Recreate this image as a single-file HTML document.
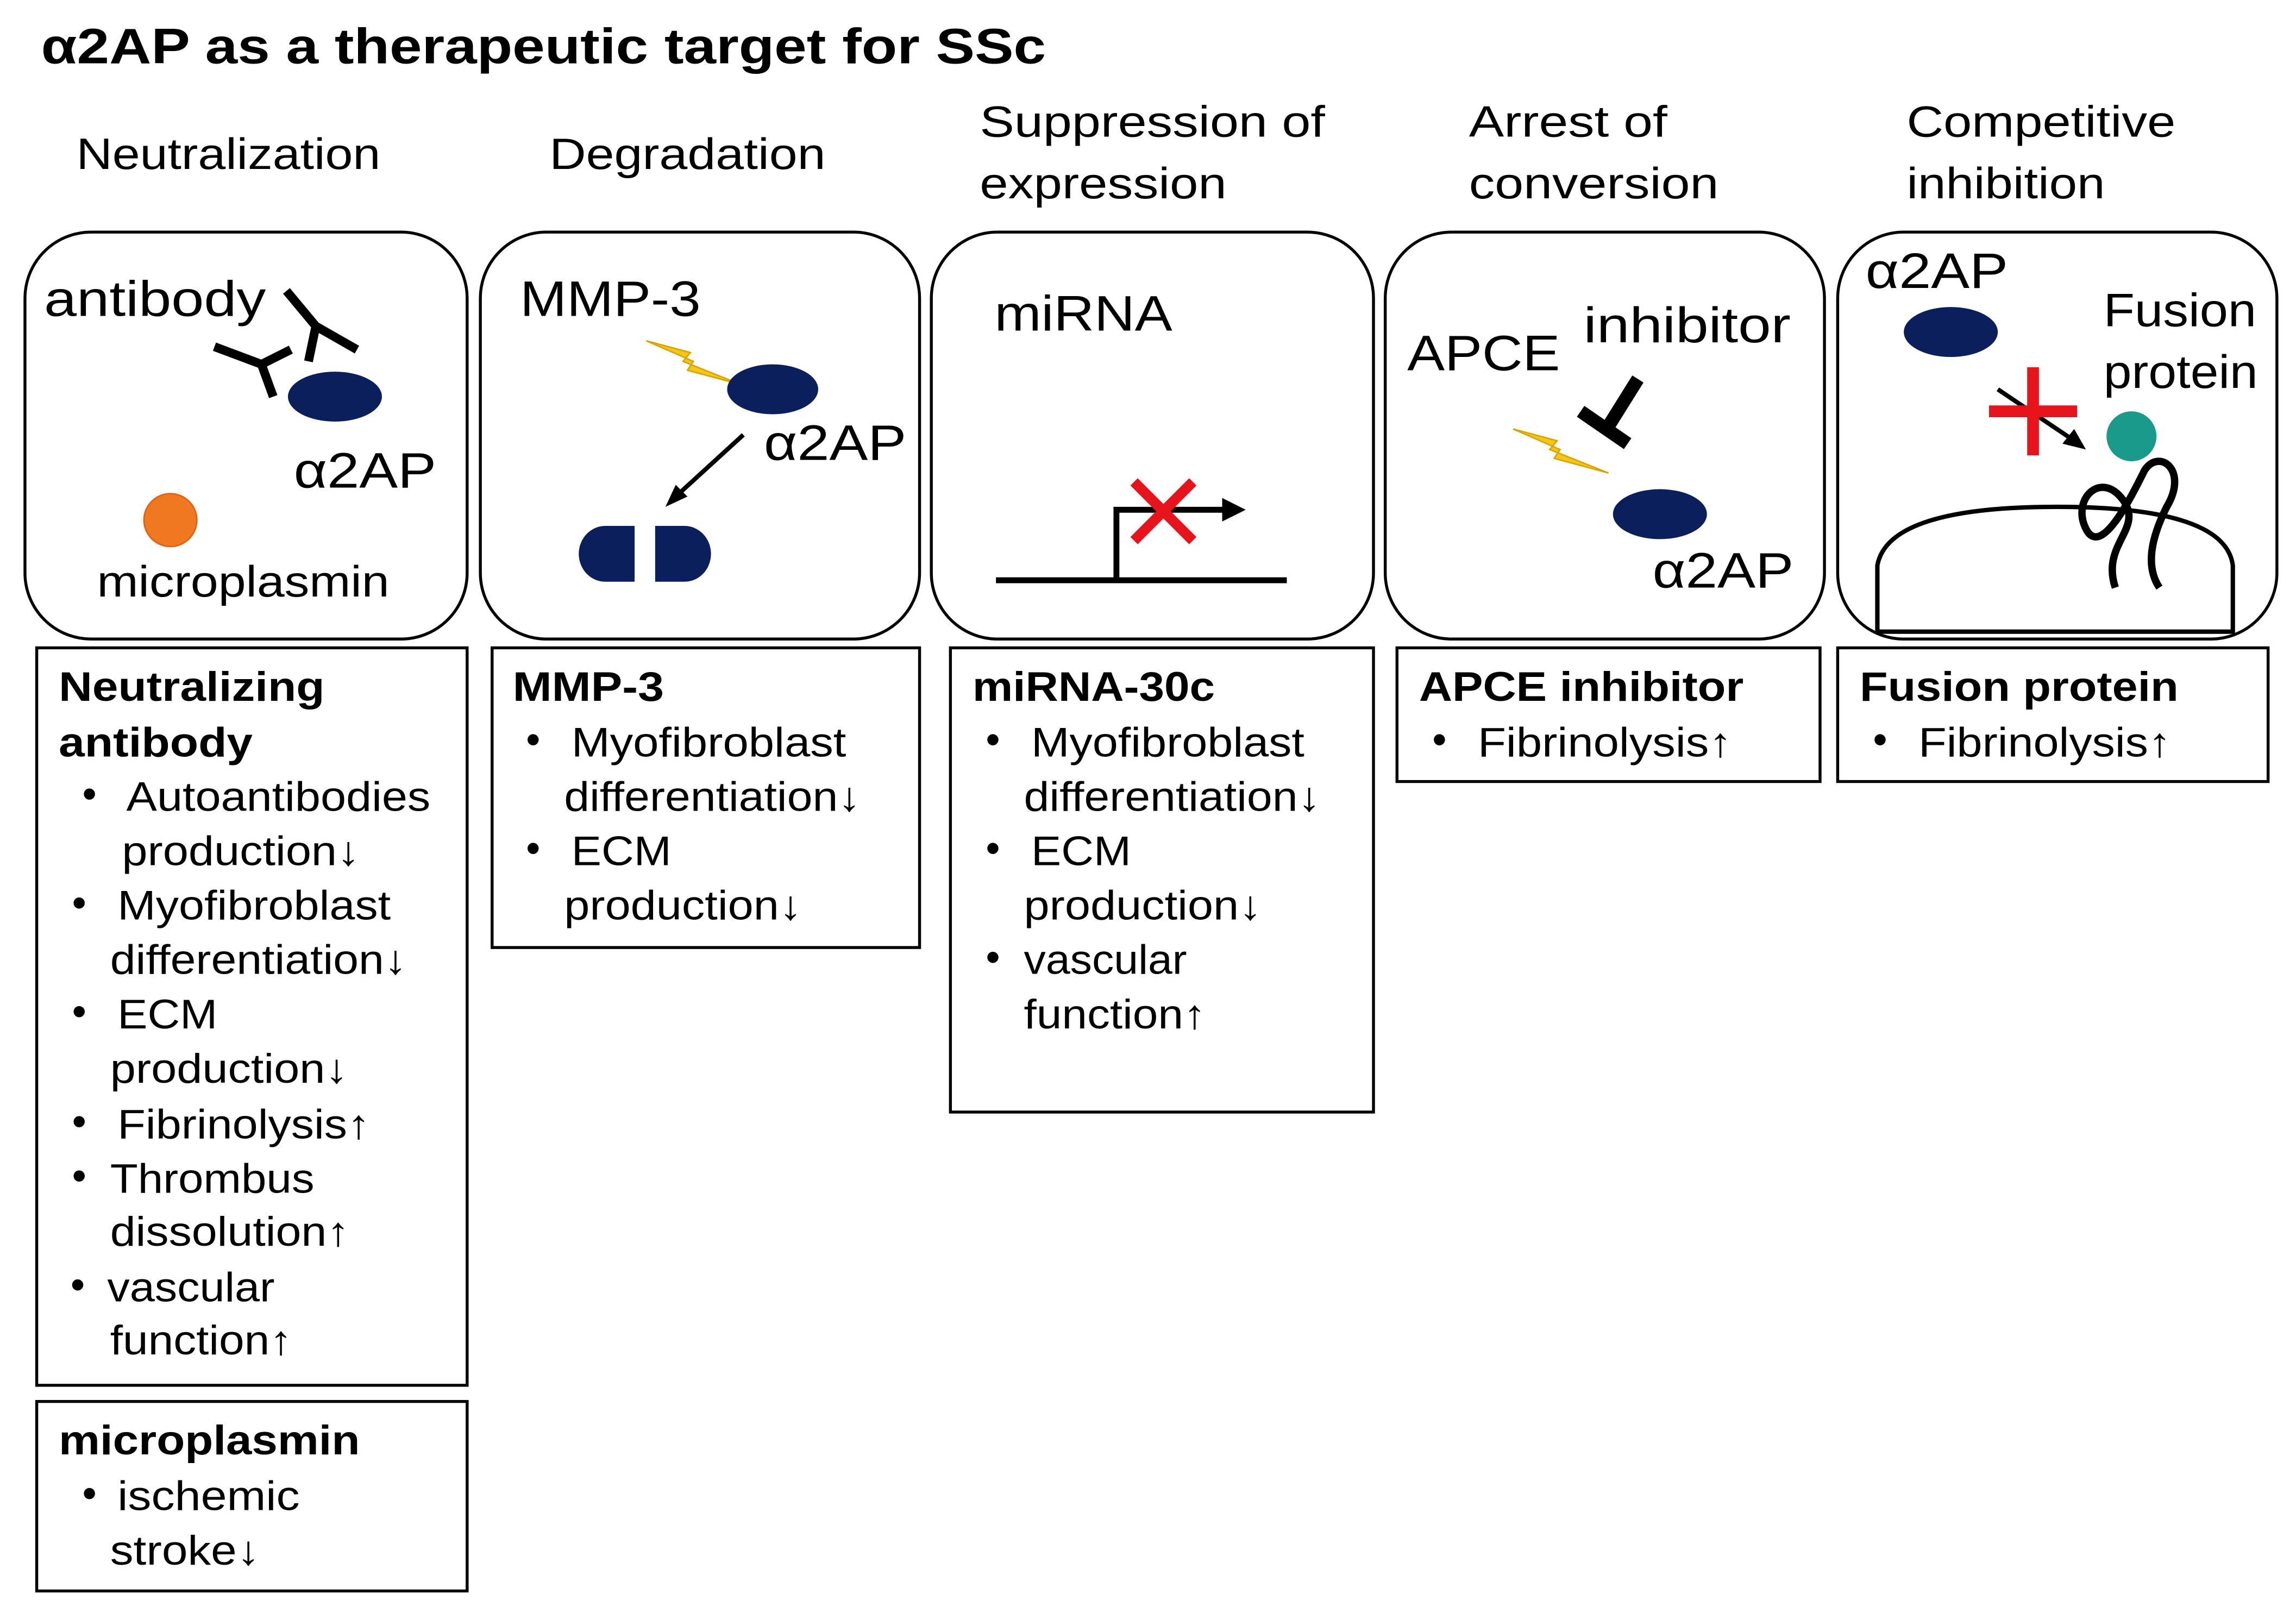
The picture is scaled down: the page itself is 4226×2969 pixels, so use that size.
<!DOCTYPE html>
<html><head><meta charset="utf-8"><style>
html,body{margin:0;padding:0;background:#fff;}
svg{display:block;}
text{font-family:"Liberation Sans",sans-serif;fill:#000;}
.b{font-weight:bold;}
</style></head><body>
<svg width="4226" height="2969" viewBox="0 0 1563 1098" preserveAspectRatio="none" xmlns="http://www.w3.org/2000/svg">
<text x="28" y="43" font-size="34" class="b" textLength="684" lengthAdjust="spacingAndGlyphs">α2AP as a therapeutic target for SSc</text>
<g font-size="30">
<text x="52" y="115" textLength="207" lengthAdjust="spacingAndGlyphs">Neutralization</text>
<text x="374" y="115" textLength="188" lengthAdjust="spacingAndGlyphs">Degradation</text>
<text x="667" y="93" textLength="235" lengthAdjust="spacingAndGlyphs">Suppression of</text>
<text x="667" y="135" textLength="168" lengthAdjust="spacingAndGlyphs">expression</text>
<text x="1000" y="93" textLength="135" lengthAdjust="spacingAndGlyphs">Arrest of</text>
<text x="1000" y="135" textLength="170" lengthAdjust="spacingAndGlyphs">conversion</text>
<text x="1298" y="93" textLength="183" lengthAdjust="spacingAndGlyphs">Competitive</text>
<text x="1298" y="135" textLength="135" lengthAdjust="spacingAndGlyphs">inhibition</text>
</g>
<g fill="none" stroke="#000" stroke-width="2">
<rect x="17" y="158" width="301" height="277" rx="45"/>
<rect x="327" y="158" width="299" height="277" rx="45"/>
<rect x="634" y="158" width="301" height="277" rx="45"/>
<rect x="943" y="158" width="299" height="277" rx="45"/>
<rect x="1251" y="158" width="299" height="277" rx="45"/>
<rect x="25" y="441" width="293" height="502"/>
<rect x="25" y="954" width="293" height="129"/>
<rect x="335" y="441" width="291" height="204"/>
<rect x="647" y="441" width="288" height="316"/>
<rect x="951" y="441" width="288" height="91"/>
<rect x="1251" y="441" width="293" height="91"/>
</g>
<!-- box1 -->
<text x="30" y="215" font-size="34" textLength="151" lengthAdjust="spacingAndGlyphs">antibody</text>
<g stroke="#000" stroke-width="6" fill="none">
<polyline points="195,198 215,222 243,238"/><line x1="215" y1="222" x2="210" y2="246"/>
<polyline points="146,236 178,248 198,238"/><line x1="178" y1="248" x2="186" y2="270"/>
</g>
<ellipse cx="228" cy="270" rx="32" ry="17" fill="#0a1f5c"/>
<text x="200" y="332" font-size="34" textLength="97" lengthAdjust="spacingAndGlyphs">α2AP</text>
<circle cx="116" cy="354" r="18" fill="#f07820" stroke="#e06010"/>
<text x="66" y="406" font-size="30" textLength="199" lengthAdjust="spacingAndGlyphs">microplasmin</text>
<!-- box2 -->
<text x="354" y="215" font-size="34" textLength="123" lengthAdjust="spacingAndGlyphs">MMP-3</text>
<polygon points="440,232 470,240 465,246 505,262 468,252 472,246" fill="#f5c518" stroke="#d9a400"/>
<ellipse cx="526" cy="265" rx="31" ry="17" fill="#0a1f5c"/>
<text x="520" y="313" font-size="34" textLength="97" lengthAdjust="spacingAndGlyphs">α2AP</text>
<line x1="506" y1="296" x2="460" y2="338" stroke="#000" stroke-width="3"/>
<polygon points="453,345 460,330 468,338" fill="#000"/>
<path d="M432,358 L412,358 A18,19 0 0 0 412,396 L432,396 Z" fill="#0a1f5c"/>
<path d="M446,358 L466,358 A18,19 0 0 1 466,396 L446,396 Z" fill="#0a1f5c"/>
<!-- box3 -->
<text x="677" y="225" font-size="34" textLength="121" lengthAdjust="spacingAndGlyphs">miRNA</text>
<g stroke="#000" stroke-width="4" fill="none">
<line x1="678" y1="395" x2="876" y2="395"/>
<polyline points="760,395 760,347 835,347"/>
</g>
<polygon points="848,347 832,339 832,355" fill="#000"/>
<g stroke="#e8141c" stroke-width="7"><line x1="772" y1="328" x2="812" y2="368"/><line x1="812" y1="328" x2="772" y2="368"/></g>
<!-- box4 -->
<text x="958" y="252" font-size="34" textLength="104" lengthAdjust="spacingAndGlyphs">APCE</text>
<text x="1078" y="233" font-size="34" textLength="141" lengthAdjust="spacingAndGlyphs">inhibitor</text>
<line x1="1115" y1="258" x2="1095" y2="290" stroke="#000" stroke-width="9"/>
<line x1="1076" y1="280" x2="1108" y2="302" stroke="#000" stroke-width="9"/>
<polygon points="1030,292 1060,300 1055,306 1095,322 1058,312 1062,306" fill="#f5c518" stroke="#d9a400"/>
<ellipse cx="1130" cy="350" rx="32" ry="17" fill="#0a1f5c"/>
<text x="1125" y="400" font-size="34" textLength="96" lengthAdjust="spacingAndGlyphs">α2AP</text>
<!-- box5 -->
<text x="1270" y="196" font-size="34" textLength="97" lengthAdjust="spacingAndGlyphs">α2AP</text>
<ellipse cx="1328" cy="226" rx="32" ry="17" fill="#0a1f5c"/>
<text x="1432" y="222" font-size="32" textLength="104" lengthAdjust="spacingAndGlyphs">Fusion</text>
<text x="1432" y="264" font-size="32" textLength="105" lengthAdjust="spacingAndGlyphs">protein</text>
<line x1="1360" y1="265" x2="1412" y2="300" stroke="#000" stroke-width="3"/>
<polygon points="1420,306 1404,302 1412,292" fill="#000"/>
<g stroke="#e8141c" stroke-width="8"><line x1="1384" y1="250" x2="1384" y2="310"/><line x1="1354" y1="280" x2="1414" y2="280"/></g>
<circle cx="1451" cy="297" r="17" fill="#1a9a8a"/>
<path d="M1278,430 L1278,385 Q1285,345 1400,345 Q1515,345 1520,385 L1520,430 Z" fill="none" stroke="#000" stroke-width="3"/>
<path d="M1440,400 C1430,370 1460,360 1445,340 C1430,320 1410,340 1420,360 C1430,380 1450,340 1460,320 C1470,305 1490,320 1475,345 C1465,365 1460,385 1470,400" fill="none" stroke="#000" stroke-width="5"/>
<!-- text boxes -->
<g font-size="28">
<text x="40" y="477" class="b" textLength="181" lengthAdjust="spacingAndGlyphs">Neutralizing</text>
<text x="40" y="515" class="b" textLength="132" lengthAdjust="spacingAndGlyphs">antibody</text>
<text x="56" y="550">•</text><text x="86" y="552" textLength="207" lengthAdjust="spacingAndGlyphs">Autoantibodies</text>
<text x="83" y="589" textLength="162" lengthAdjust="spacingAndGlyphs">production↓</text>
<text x="49" y="624">•</text><text x="80" y="626" textLength="186" lengthAdjust="spacingAndGlyphs">Myofibroblast</text>
<text x="75" y="663" textLength="202" lengthAdjust="spacingAndGlyphs">differentiation↓</text>
<text x="49" y="698">•</text><text x="80" y="700" textLength="68" lengthAdjust="spacingAndGlyphs">ECM</text>
<text x="75" y="737" textLength="162" lengthAdjust="spacingAndGlyphs">production↓</text>
<text x="49" y="773">•</text><text x="80" y="775" textLength="172" lengthAdjust="spacingAndGlyphs">Fibrinolysis↑</text>
<text x="49" y="810">•</text><text x="75" y="812" textLength="139" lengthAdjust="spacingAndGlyphs">Thrombus</text>
<text x="75" y="848" textLength="163" lengthAdjust="spacingAndGlyphs">dissolution↑</text>
<text x="48" y="884">•</text><text x="73" y="886" textLength="114" lengthAdjust="spacingAndGlyphs">vascular</text>
<text x="75" y="922" textLength="124" lengthAdjust="spacingAndGlyphs">function↑</text>
<text x="40" y="990" class="b" textLength="205" lengthAdjust="spacingAndGlyphs">microplasmin</text>
<text x="56" y="1026">•</text><text x="80" y="1028" textLength="124" lengthAdjust="spacingAndGlyphs">ischemic</text>
<text x="75" y="1065" textLength="102" lengthAdjust="spacingAndGlyphs">stroke↓</text>

<text x="349" y="477" class="b" textLength="103" lengthAdjust="spacingAndGlyphs">MMP-3</text>
<text x="358" y="513">•</text><text x="389" y="515" textLength="187" lengthAdjust="spacingAndGlyphs">Myofibroblast</text>
<text x="384" y="552" textLength="202" lengthAdjust="spacingAndGlyphs">differentiation↓</text>
<text x="358" y="587">•</text><text x="389" y="589" textLength="68" lengthAdjust="spacingAndGlyphs">ECM</text>
<text x="384" y="626" textLength="162" lengthAdjust="spacingAndGlyphs">production↓</text>

<text x="662" y="477" class="b" textLength="165" lengthAdjust="spacingAndGlyphs">miRNA-30c</text>
<text x="671" y="513">•</text><text x="702" y="515" textLength="186" lengthAdjust="spacingAndGlyphs">Myofibroblast</text>
<text x="697" y="552" textLength="202" lengthAdjust="spacingAndGlyphs">differentiation↓</text>
<text x="671" y="587">•</text><text x="702" y="589" textLength="68" lengthAdjust="spacingAndGlyphs">ECM</text>
<text x="697" y="626" textLength="162" lengthAdjust="spacingAndGlyphs">production↓</text>
<text x="671" y="661">•</text><text x="697" y="663" textLength="111" lengthAdjust="spacingAndGlyphs">vascular</text>
<text x="697" y="700" textLength="124" lengthAdjust="spacingAndGlyphs">function↑</text>

<text x="966" y="477" class="b" textLength="221" lengthAdjust="spacingAndGlyphs">APCE inhibitor</text>
<text x="975" y="513">•</text><text x="1006" y="515" textLength="173" lengthAdjust="spacingAndGlyphs">Fibrinolysis↑</text>

<text x="1266" y="477" class="b" textLength="217" lengthAdjust="spacingAndGlyphs">Fusion protein</text>
<text x="1275" y="513">•</text><text x="1306" y="515" textLength="172" lengthAdjust="spacingAndGlyphs">Fibrinolysis↑</text>
</g>
</svg>
</body></html>
